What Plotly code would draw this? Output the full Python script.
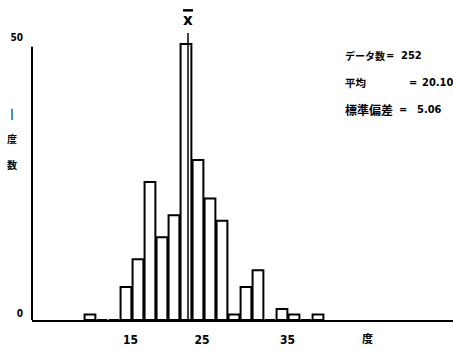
import plotly.graph_objects as go

# ---- data ----
bin_index = list(range(20))                      # histogram classes, left to right
counts = [1, 0, 0, 6, 11, 25, 15, 19, 50, 29, 22, 18, 1, 6, 9, 0, 2, 1, 0, 1]
x_tick_labels = ["15", "25", "35"]
x_tick_pos = [3.375, 9.33, 16.46]                # where the labels sit, in class units
y_tick_vals = [0, 50]
y_tick_labels = ["0", "50"]
mean_pos = 8.17                                  # position of the x̄ line, in class units
stat_labels = ["データ数", "平均", "標準偏差"]
stat_values = ["252", "20.10", "5.06"]

NUM_FONT = "Liberation Sans Narrow, DejaVu Sans Condensed, Arial Narrow, sans-serif"
CJK_FONT = "Noto Sans CJK JP, Noto Sans CJK SC, sans-serif"

fig = go.Figure()
fig.add_trace(go.Bar(
    x=bin_index, y=counts, width=0.9,
    marker=dict(color="white", line=dict(color="black", width=2)),
    hoverinfo="skip",
))

# mean line
fig.add_shape(type="line", xref="x", yref="y", x0=mean_pos, x1=mean_pos, y0=0, y1=52,
              line=dict(color="black", width=1.5), layer="above")
# y axis line (stops below the top, as in the original)
fig.add_shape(type="line", xref="paper", yref="paper", x0=0, x1=0, y0=0, y1=49.5 / 52,
              line=dict(color="black", width=2))
# bar over the x of the mean label
fig.add_shape(type="line", xref="paper", yref="paper", x0=0.3587, x1=0.3824, y0=1.079, y1=1.079,
              line=dict(color="black", width=2.5))

ann = []
ann.append(dict(text="x", xref="x", yref="paper", x=mean_pos, y=1.045,
                xanchor="center", yanchor="middle",
                showarrow=False, font=dict(family="DejaVu Sans", size=15, color="black", weight="bold")))
ann.append(dict(text="|<br><br>度<br><br>数", xref="paper", yref="paper", x=-0.0475, y=0.634,
                xanchor="center", yanchor="middle", showarrow=False,
                font=dict(family=CJK_FONT, size=10, color="black", weight="bold")))
ann.append(dict(text="度", xref="paper", yref="paper", x=0.798, y=-0.0627,
                xanchor="center", yanchor="middle", showarrow=False,
                font=dict(family=CJK_FONT, size=11, color="black", weight="bold")))

rows_y = [0.923, 0.826, 0.732]
label_sizes = [10, 10.5, 12]
eq_x = [0.850, 0.905, 0.882]
val_x = [0.872, 0.922, 0.910]
for i in range(3):
    ann.append(dict(text=stat_labels[i], xref="paper", yref="paper", x=0.7387, y=rows_y[i],
                    xanchor="left", yanchor="middle", showarrow=False,
                    font=dict(family=CJK_FONT, size=label_sizes[i], color="black", weight="bold")))
    ann.append(dict(text="=", xref="paper", yref="paper", x=eq_x[i], y=rows_y[i],
                    xanchor="center", yanchor="middle", showarrow=False,
                    font=dict(family=NUM_FONT, size=11, color="black", weight="bold")))
    ann.append(dict(text=stat_values[i], xref="paper", yref="paper", x=val_x[i], y=rows_y[i],
                    xanchor="left", yanchor="middle", showarrow=False,
                    font=dict(family=NUM_FONT, size=11, color="black", weight="bold")))

fig.update_layout(
    width=453, height=350,
    margin=dict(l=32, r=0, t=33, b=30),
    paper_bgcolor="white", plot_bgcolor="white",
    showlegend=False, bargap=0.08,
    annotations=ann,
    xaxis=dict(range=[-4.83, 30.25], showgrid=False, zeroline=False,
               showline=True, linecolor="black", linewidth=1.5,
               tickmode="array", tickvals=x_tick_pos, ticktext=x_tick_labels,
               ticks="outside", ticklen=8, tickcolor="rgba(0,0,0,0)",
               tickfont=dict(family=NUM_FONT, size=12, color="black", weight="bold")),
    yaxis=dict(range=[0, 52], showgrid=False, zeroline=False, showline=False,
               tickmode="array", tickvals=y_tick_vals, ticktext=y_tick_labels,
               ticks="", ticklabelposition="outside top", ticklabelstandoff=8,
               tickfont=dict(family=NUM_FONT, size=10, color="black", weight="bold")),
)

fig.write_html("out.html", config={"displayModeBar": False},
               post_script="document.body.style.margin='0';document.body.style.padding='0';")
